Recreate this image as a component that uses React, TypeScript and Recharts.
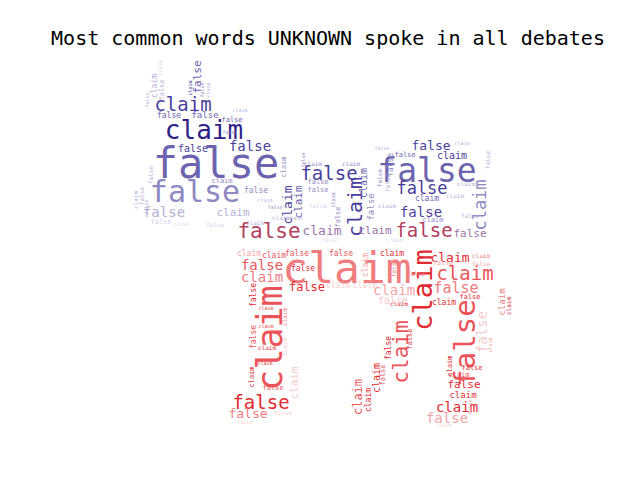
import { ScatterChart, Scatter, XAxis, YAxis } from 'recharts';

// word cloud: [word, x, y, weight, vertical (1 = rotated), tone]
type WordRow = [string, number, number, number, number, number];

const title = 'Most common words UNKNOWN spoke in all debates';

// tones of the mask image, top (blue) to bottom (red)
const tones = [
  '#2e1f86', '#4a3e9c', '#6c64ae', '#8f89c2', '#b5b1d8', '#d6d3ea',
  '#b2415f', '#9d74a6',
  '#e12b31', '#ea5459', '#ef7c7e', '#f3a5a6', '#f8cccd',
];

const headWords: WordRow[] = [
  ['false', 216, 163, 42, 0, 2],
  ['false', 195, 191, 30, 0, 3],
  ['claim', 204, 130, 26, 0, 0],
  ['claim', 183, 104, 19, 0, 1],
  ['false', 193, 148, 10, 0, 1],
  ['false', 250, 146, 14, 0, 1],
  ['false', 164, 212, 14, 0, 4],
  ['claim', 233, 212, 11, 0, 4],
  ['false', 256, 190, 8, 0, 3],
  ['claim', 222, 181, 7, 0, 3],
  ['false', 161, 222, 7, 0, 5],
  ['claim', 281, 217, 6, 0, 4],
  ['false', 150, 175, 6, 1, 4],
  ['false', 197, 77, 11, 1, 2],
  ['claim', 154, 86, 8, 1, 4],
  ['false', 162, 90, 7, 1, 4],
  ['claim', 190, 88, 5, 1, 1],
  ['false', 202, 90, 5, 1, 3],
  ['claim', 208, 90, 5, 1, 4],
  ['false', 169, 115, 8, 0, 2],
  ['false', 205, 115, 9, 0, 2],
  ['false', 232, 120, 7, 0, 2],
  ['claim', 135, 200, 6, 1, 4],
  ['false', 141, 196, 6, 1, 4],
  ['false', 146, 207, 5, 1, 4],
  ['claim', 181, 224, 5, 0, 5],
  ['false', 215, 224, 6, 0, 5],
  ['claim', 255, 222, 6, 0, 4],
  ['claim', 265, 200, 5, 0, 4],
  ['false', 275, 207, 5, 0, 3],
  ['claim', 160, 68, 5, 1, 5],
  ['false', 230, 132, 5, 0, 3],
  ['claim', 240, 110, 5, 0, 4],
  ['false', 147, 100, 5, 1, 4],
];

const backWords: WordRow[] = [
  ['false', 427, 170, 33, 0, 2],
  ['false', 329, 173, 19, 0, 1],
  ['false', 422, 188, 17, 0, 1],
  ['claim', 355, 207, 20, 1, 1],
  ['false', 431, 145, 13, 0, 1],
  ['claim', 452, 155, 10, 0, 1],
  ['false', 405, 155, 7, 0, 2],
  ['false', 421, 212, 14, 0, 1],
  ['claim', 480, 205, 17, 1, 3],
  ['claim', 427, 198, 8, 0, 2],
  ['claim', 433, 220, 7, 0, 3],
  ['false', 424, 230, 19, 0, 6],
  ['false', 470, 233, 11, 0, 7],
  ['false', 269, 231, 21, 0, 6],
  ['claim', 322, 230, 13, 0, 7],
  ['claim', 375, 230, 11, 0, 7],
  ['claim', 287, 205, 13, 1, 1],
  ['claim', 298, 202, 11, 1, 2],
  ['claim', 284, 167, 7, 1, 3],
  ['claim', 363, 183, 10, 1, 2],
  ['false', 371, 207, 9, 1, 3],
  ['false', 379, 178, 6, 1, 3],
  ['false', 387, 183, 6, 1, 4],
  ['false', 390, 165, 8, 1, 3],
  ['false', 303, 160, 5, 1, 3],
  ['false', 318, 182, 7, 0, 3],
  ['false', 318, 190, 7, 0, 3],
  ['false', 318, 205, 6, 0, 5],
  ['false', 338, 217, 7, 1, 3],
  ['claim', 333, 200, 5, 1, 3],
  ['claim', 295, 218, 5, 0, 4],
  ['claim', 351, 163, 6, 0, 3],
  ['claim', 466, 183, 6, 0, 4],
  ['false', 487, 160, 6, 1, 4],
  ['claim', 455, 195, 6, 0, 4],
  ['false', 470, 215, 6, 0, 4],
  ['claim', 387, 205, 6, 0, 4],
  ['claim', 313, 163, 6, 0, 3],
  ['claim', 462, 143, 5, 0, 4],
  ['false', 382, 148, 5, 0, 4],
  ['claim', 395, 240, 5, 0, 5],
  ['false', 330, 240, 5, 0, 5],
];

const legWords: WordRow[] = [
  ['claim', 347, 268, 43, 0, 10],
  ['claim', 270, 338, 35, 1, 9],
  ['claim', 422, 290, 27, 1, 8],
  ['false', 465, 343, 29, 1, 9],
  ['claim', 465, 273, 19, 0, 9],
  ['claim', 450, 257, 13, 0, 8],
  ['false', 456, 288, 15, 0, 10],
  ['claim', 394, 290, 14, 0, 11],
  ['false', 393, 300, 10, 0, 12],
  ['false', 470, 297, 7, 0, 8],
  ['claim', 444, 302, 8, 0, 8],
  ['claim', 399, 303, 6, 0, 8],
  ['false', 482, 332, 14, 1, 12],
  ['claim', 401, 352, 21, 1, 9],
  ['false', 410, 339, 7, 1, 8],
  ['false', 388, 348, 8, 1, 8],
  ['claim', 376, 378, 10, 1, 8],
  ['false', 383, 375, 7, 1, 9],
  ['claim', 368, 400, 8, 1, 8],
  ['claim', 358, 397, 12, 1, 9],
  ['claim', 502, 302, 9, 1, 10],
  ['claim', 508, 306, 6, 1, 8],
  ['false', 472, 368, 7, 0, 8],
  ['claim', 459, 375, 7, 0, 9],
  ['claim', 450, 366, 7, 1, 8],
  ['false', 464, 384, 11, 0, 8],
  ['claim', 463, 395, 9, 0, 8],
  ['claim', 457, 407, 14, 0, 8],
  ['false', 447, 418, 14, 0, 11],
  ['false', 416, 273, 6, 0, 10],
  ['false', 443, 263, 7, 0, 11],
  ['claim', 481, 255, 6, 0, 10],
  ['false', 481, 263, 6, 0, 11],
  ['claim', 392, 253, 8, 0, 8],
  ['claim', 365, 265, 8, 1, 11],
  ['false', 393, 268, 6, 1, 10],
  ['claim', 249, 253, 8, 0, 11],
  ['claim', 274, 255, 8, 0, 9],
  ['false', 297, 253, 8, 0, 9],
  ['false', 341, 253, 8, 0, 9],
  ['false', 262, 265, 14, 0, 9],
  ['claim', 262, 277, 14, 0, 10],
  ['false', 303, 268, 8, 0, 8],
  ['false', 307, 287, 12, 0, 8],
  ['claim', 338, 285, 8, 0, 12],
  ['claim', 365, 285, 8, 0, 12],
  ['false', 253, 295, 8, 1, 8],
  ['false', 253, 337, 8, 1, 9],
  ['claim', 284, 317, 6, 1, 10],
  ['claim', 284, 347, 6, 1, 12],
  ['claim', 294, 383, 11, 1, 12],
  ['claim', 266, 308, 5, 0, 8],
  ['claim', 266, 326, 5, 0, 8],
  ['claim', 267, 347, 6, 0, 8],
  ['claim', 265, 363, 5, 0, 8],
  ['claim', 252, 377, 7, 1, 8],
  ['false', 261, 402, 19, 0, 8],
  ['false', 248, 413, 13, 0, 10],
  ['false', 245, 422, 5, 0, 12],
  ['false', 273, 388, 7, 0, 9],
  ['false', 283, 412, 6, 0, 12],
  ['claim', 444, 425, 5, 0, 12],
  ['false', 470, 407, 5, 1, 11],
  ['claim', 490, 345, 5, 1, 11],
];

const toPoints = (rows: WordRow[]) =>
  rows.map(([text, x, y, weight, vertical, tone]) => ({
    text,
    x,
    y,
    weight,
    vertical,
    tone,
  }));

const words = [...toPoints(headWords), ...toPoints(backWords), ...toPoints(legWords)];

const renderWord = (props: any) => {
  const { cx, cy } = props;
  const p = props.payload || props;
  return (
    <text
      x={cx}
      y={cy}
      fontSize={p.weight}
      fontFamily="'DejaVu Sans Mono', monospace"
      fill={tones[p.tone]}
      textAnchor="middle"
      dominantBaseline="central"
      transform={p.vertical ? `rotate(-90 ${cx} ${cy})` : undefined}
    >
      {p.text}
    </text>
  );
};

export default function App() {
  return (
    <div
      style={{
        position: 'absolute',
        left: 0,
        top: 0,
        width: 640,
        height: 480,
        background: '#fff',
      }}
    >
      <div
        style={{
          position: 'absolute',
          left: 8,
          top: 26,
          width: 640,
          textAlign: 'center',
          fontFamily: "'DejaVu Sans Mono', monospace",
          fontSize: 20,
          lineHeight: '24px',
          color: '#000',
        }}
      >
        {title}
      </div>
      <ScatterChart width={640} height={480} margin={{ top: 0, right: 0, bottom: 0, left: 0 }}>
        <XAxis type="number" dataKey="x" domain={[0, 640]} hide />
        <YAxis type="number" dataKey="y" domain={[0, 480]} reversed hide />
        <Scatter data={words} shape={renderWord} isAnimationActive={false} />
      </ScatterChart>
    </div>
  );
}
